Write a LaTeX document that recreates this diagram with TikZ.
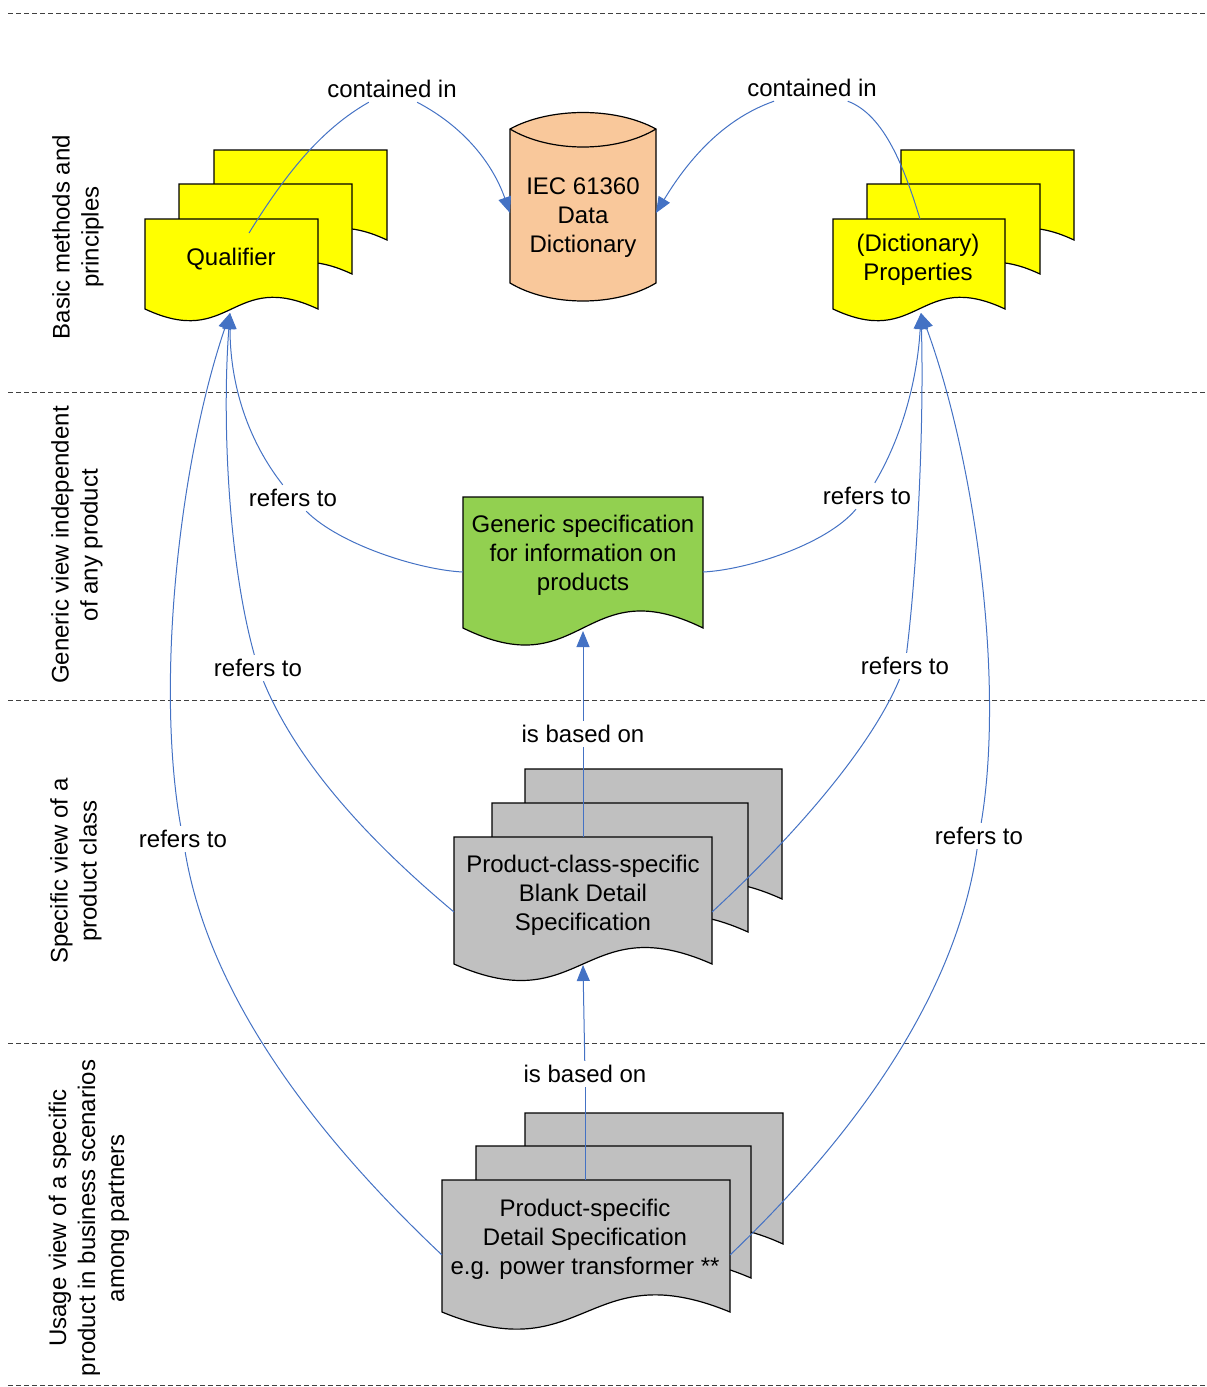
\documentclass[tikz,border=0pt]{standalone}
\usepackage{fontspec}
\setmainfont{Liberation Sans}
\usepackage{tikz}
\usepackage{xcolor}
\usetikzlibrary{arrows.meta}
\definecolor{vlink}{HTML}{4472C4}
\definecolor{vyellow}{HTML}{FFFF00}
\definecolor{vpeach}{HTML}{F9C89B}
\definecolor{vgreen}{HTML}{92D050}
\definecolor{vgray}{HTML}{C0C0C0}
\definecolor{vline}{HTML}{404040}
\tikzset{
	docline/.style={draw=black, line width=0.6pt},
	txt/.style={font=\fontsize{12pt}{14.5pt}\selectfont, align=center, inner sep=0pt},
	lbl/.style={font=\fontsize{12pt}{14.5pt}\selectfont, inner sep=2pt},
	link/.style={color=vlink, line width=0.5pt},
	linkarrow/.style={link, -{Triangle[length=8pt,width=6.5pt]}},
	lane/.style={color=vline, line width=0.5pt, dash pattern=on 2.5pt off 1.5pt}
}
\newcommand{\docpage}[5]{%
	\draw[docline, fill=#1] (#2,#3) -- ({#2+#4},#3) -- ({#2+#4},{#3+#5})
		.. controls ({#2+0.5*#4},{#3+0.55*#5}) and ({#2+0.5*#4},{#3+1.45*#5}) .. (#2,{#3+#5}) -- cycle;}
\begin{document}
\begin{tikzpicture}[x=0.5pt, y=-0.5pt]
		\useasboundingbox (0,0) rectangle (1206,1387);
		\draw[lane] (8,13) -- (1206,13);
		\draw[lane] (8,392) -- (1206,392);
		\draw[lane] (8,700) -- (1206,700);
		\draw[lane] (8,1043) -- (1206,1043);
		\draw[lane] (8,1385) -- (1206,1385);
		\node[txt, rotate=90] (lane1) at (78,237) {Basic methods and\\principles};
		\node[txt, rotate=90] (lane2) at (77,545) {Generic view independent\\of any product};
		\node[txt, rotate=90] (lane3) at (76,871) {Specific view of a\\product class};
		\node[txt, rotate=90] (lane4) at (89,1218) {Usage view of a specific\\product in business scenarios\\among partners};
		\docpage{vyellow}{214}{150}{173}{90}
		\docpage{vyellow}{179}{184}{173}{90}
		\docpage{vyellow}{145}{219}{173}{90}
		\docpage{vyellow}{901}{150}{173}{90}
		\docpage{vyellow}{867}{184}{173}{90}
		\docpage{vyellow}{833}{219}{172}{90}
		\docpage{vgreen}{463}{497}{240}{131}
		\docpage{vgray}{525}{769}{257}{130}
		\docpage{vgray}{492}{803}{256}{129}
		\docpage{vgray}{454}{837}{258}{127}
		\docpage{vgray}{525}{1113}{258}{131}
		\docpage{vgray}{476}{1146}{275}{132}
		\docpage{vgray}{442}{1180}{288}{132}
		\draw[docline, fill=vpeach] (510,129) .. controls (550,107) and (616,107) .. (656,129) -- (656,283)
			.. controls (616,307) and (550,307) .. (510,283) -- cycle;
		\draw[docline] (510,129) .. controls (550,153) and (616,153) .. (656,129);
		\node[txt] (qual) at (231,259) {Qualifier};
		\node[txt] (prop) at (918,260) {(Dictionary)\\Properties};
		\node[txt] (dict) at (583,218) {IEC 61360\\Data\\Dictionary};
		\node[txt] (gen) at (583,555) {Generic specification\\for information on\\products};
		\node[txt] (bds) at (583,895) {Product-class-specific\\Blank Detail\\Specification};
		\node[txt] (pds) at (585,1239) {Product-specific\\Detail Specification\\e.g. power transformer **};
		\coordinate (qualin) at (249,233);
		\coordinate (qualbot) at (230,313);
		\coordinate (propin) at (920,219);
		\coordinate (propbot) at (921,313);
		\coordinate (dictw) at (510,213);
		\coordinate (dicte) at (656,213);
		\coordinate (genw) at (463,572);
		\coordinate (gene) at (703,572);
		\coordinate (genbot) at (583,631);
		\coordinate (bdstop) at (583,837);
		\coordinate (bdsw) at (454,912);
		\coordinate (bdse) at (712,912);
		\coordinate (bdsbot) at (583,965);
		\coordinate (pdstop) at (585,1180);
		\coordinate (pdsw) at (442,1255);
		\coordinate (pdse) at (730,1255);
		\node[lbl] (cin1) at (392,89) {contained in};
		\node[lbl] (cin2) at (812,88) {contained in};
		\node[lbl] (rt1) at (293,498) {refers to};
		\node[lbl] (rt2) at (867,496) {refers to};
		\node[lbl] (rt3) at (258,668) {refers to};
		\node[lbl] (rt4) at (905,666) {refers to};
		\node[lbl] (rt5) at (183,839) {refers to};
		\node[lbl] (rt6) at (979,836) {refers to};
		\node[lbl] (bob1) at (583,734) {is based on};
		\node[lbl] (bob2) at (585,1074) {is based on};
		\draw[link] (qualin) .. controls (285,175) and (320,130) .. (cin1);
		\draw[linkarrow] (cin1) .. controls (470,130) and (495,170) .. (dictw);
		\draw[link] (propin) .. controls (905,170) and (885,115) .. (cin2);
		\draw[linkarrow] (cin2) .. controls (720,120) and (685,165) .. (dicte);
		\draw[link] (genw) .. controls (420,570) and (340,545) .. (rt1);
		\draw[linkarrow] (rt1) .. controls (240,430) and (230,370) .. (qualbot);
		\draw[link] (gene) .. controls (746,570) and (826,545) .. (rt2);
		\draw[linkarrow] (rt2) .. controls (906,430) and (918,370) .. (propbot);
		\draw[link] (bdsw) .. controls (380,850) and (300,770) .. (rt3);
		\draw[linkarrow] (rt3) .. controls (228,560) and (222,420) .. (qualbot);
		\draw[link] (bdse) .. controls (790,840) and (870,750) .. (rt4);
		\draw[linkarrow] (rt4) .. controls (918,560) and (924,420) .. (propbot);
		\draw[link] (pdsw) .. controls (320,1140) and (210,1000) .. (rt5);
		\draw[linkarrow] (rt5) .. controls (155,680) and (180,460) .. (qualbot);
		\draw[link] (pdse) .. controls (850,1140) and (955,1000) .. (rt6);
		\draw[linkarrow] (rt6) .. controls (1005,680) and (975,460) .. (propbot);
		\draw[link] (bdstop) -- (bob1);
		\draw[linkarrow] (bob1) -- (genbot);
		\draw[link] (pdstop) -- (bob2);
		\draw[linkarrow] (bob2) -- (bdsbot);
	\end{tikzpicture}
\end{document}
